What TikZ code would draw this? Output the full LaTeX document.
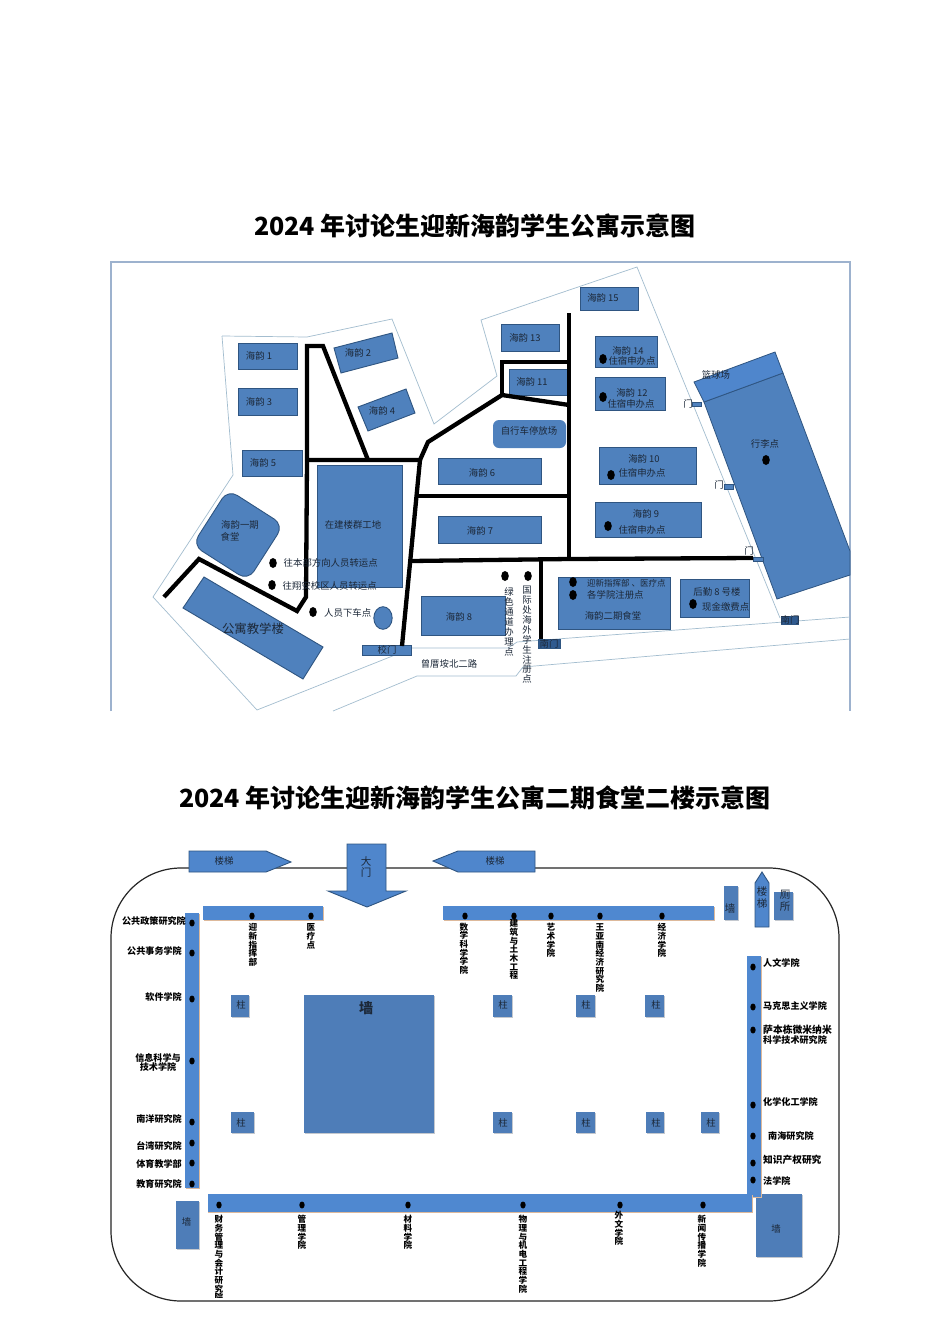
\documentclass[tikz,border=0pt]{standalone}
\usepackage{fontspec}
\setmainfont{Noto Sans CJK SC}
\definecolor{bldg}{HTML}{4F81BD}
\definecolor{bldgdk}{HTML}{2F5581}
\definecolor{barblue}{HTML}{4F88D0}
\definecolor{arrowblue}{HTML}{4F86CC}
\definecolor{wallblue}{HTML}{4E7DB8}
\definecolor{thinline}{HTML}{A3BDCF}
\definecolor{framec}{HTML}{9DB2CE}
\definecolor{txt}{HTML}{1C2838}
\definecolor{tan}{HTML}{DDB99B}
\definecolor{shadowc}{HTML}{C4C8CE}
\definecolor{gatedk}{HTML}{2F5A8F}
\makeatletter
\newcommand\vstk[2]{\vbox{\offinterlineskip\@tfor\vch:=#2\do{\hbox to 1em{\hss\vrule height .86\dimexpr#1pt\relax depth .14\dimexpr#1pt\relax width 0pt\vch\hss}}}}
\makeatother
\tikzset{
  x=1pt,y=-1pt,
  bld/.style={fill=bldg,draw=bldgdk,line width=0.9pt},
  road/.style={draw=black,line width=4.3pt,line join=miter},
  thin line/.style={draw=thinline,line width=0.7pt},
  lab/.style={font=\fontsize{9.4}{10.5}\selectfont,inner sep=0pt,text=txt,align=center},
  labl/.style={lab,anchor=west},
  vlab/.style={lab,anchor=north},
  blab/.style={font=\bfseries\fontsize{9.1}{9}\selectfont,inner sep=0pt,text=black,align=center},
  vblab/.style={inner sep=0pt,text=black,anchor=north,font=\bfseries\fontsize{8.6}{9}\selectfont},
  titletext/.style={font=\bfseries\fontsize{25}{27}\selectfont,inner sep=0pt,text=black},
  arrowshape/.style={fill=arrowblue,draw=bldgdk,line width=0.9pt},
  barbox/.style={fill=barblue},
  barshadow/.style={fill=tan},
  wallbox/.style={fill=wallblue},
  wallshadow/.style={fill=shadowc},
  door/.style={fill=bldg,draw=bldgdk,line width=0.8pt},
  darkdoor/.style={fill=gatedk,draw=bldgdk,line width=0.8pt},
}
\newcommand\blk[2]{\fill[black] (#1,#2) ellipse [x radius=3.8,y radius=5];}
\newcommand\sdot[2]{\fill[black] (#1,#2) ellipse [x radius=2.7,y radius=3.5];}
\newcommand\wallrect[4]{\fill[wallshadow] (#1+1,#2+1.2) rectangle (#3+1,#4+1.2);\fill[wallbox] (#1,#2) rectangle (#3,#4);}
\begin{document}
\begin{tikzpicture}
\useasboundingbox (0,0) rectangle (950,1344);
\fill[white] (0,0) rectangle (950,1344);
% titles
\node[titletext] (t1) at (475,226) {2024 年讨论生迎新海韵学生公寓示意图};
\node[titletext] (t2) at (475,798) {2024 年讨论生迎新海韵学生公寓二期食堂二楼示意图};
% frame of the upper map
\draw[draw=framec,line width=1.3pt] (111,711) -- (111,262) -- (850,262) -- (850,711);
% site outlines
\draw[thin line] (222,336) -- (307,337) -- (392,319) -- (434,424) -- (497,376) -- (481,320) -- (637,267) -- (780,618);
\draw[thin line] (222,336) -- (233,475) -- (153,597) -- (257,710) -- (395,655);
\draw[thin line] (410,648) -- (508,648) -- (517,642) -- (850,617);
\draw[thin line] (333,711) -- (417,676) -- (516,676) -- (523,667) -- (850,639);
% buildings
\draw[bld] (238,343) rectangle (297,369);
\draw[bld] (238,388) rectangle (297,415);
\draw[bld] (242,450) rectangle (302,476);
\draw[bld] (334,348) -- (392,333) -- (398,358) -- (341,373) -- cycle;
\draw[bld] (358,407) -- (406,389) -- (415,413) -- (368,431) -- cycle;
\draw[bld] (438,458) rectangle (541,484);
\draw[bld] (438,516) rectangle (541,543);
\draw[bld] (421,596) rectangle (505,635);
\draw[bld] (317,465) rectangle (402,587);
\draw[bld] (580,287) rectangle (638,310);
\draw[bld] (501,324) rectangle (559,351);
\draw[bld] (509,369) rectangle (567,395);
\draw[bld] (595,336) rectangle (657,367);
\draw[bld] (595,377) rectangle (665,410);
\draw[bld] (599,447) rectangle (696,484);
\draw[bld] (595,502) rectangle (701,537);
\draw[bld] (558,577) rectangle (670,629);
\draw[bld] (680,579) rectangle (749,617);
\fill[bldg,rounded corners=6pt] (493,420) rectangle (566,448);
\draw[fill=bldg,draw=bldgdk,line width=0.8pt] (704,402) -- (783,373) -- (850,551) -- (850,575) -- (777,599) -- cycle;
\draw[fill=arrowblue,draw=bldgdk,line width=0.8pt] (694,382) -- (775,352) -- (783,373) -- (704,402) -- cycle;
\draw[bld,rounded corners=11pt] (228,489.5) -- (283.5,525) -- (248,580.5) -- (192.5,545) -- cycle;
\draw[bld] (204,577) -- (323,647) -- (303,679) -- (183,608) -- cycle;
\draw[bld] (383,618) ellipse [x radius=9.2,y radius=11.3];
% gates
\draw[door] (362,645) rectangle (411,655);
\draw[darkdoor] (538,639) rectangle (560,648);
\draw[darkdoor] (781,616) rectangle (798,624);
\draw[door] (692,402) rectangle (701,406);
\draw[door] (724,484) rectangle (733,489);
\draw[door] (753,557) rectangle (763,561);
% roads
\draw[road] (307,460) -- (307,346) -- (323,346) -- (368,460);
\draw[road] (307,460) -- (420,460) -- (428,442) -- (502,395) -- (569,405);
\draw[road] (569,313) -- (569,558);
\draw[road] (502,395) -- (502,362) -- (569,362);
\draw[road] (420,460) -- (402,646);
\draw[road] (418,496) -- (569,496);
\draw[road] (411,561) -- (569,559) -- (753,558);
\draw[road] (541,560) -- (541,639);
\draw[road] (307,460) -- (306,597) -- (297,611) -- (199,559) -- (164,597);
% upper map labels
\node[lab] (n1) at (259,356) {海韵 1};
\node[lab] (n3) at (259,402) {海韵 3};
\node[lab] (n5) at (263,463) {海韵 5};
\node[lab] (n2) at (358,353) {海韵 2};
\node[lab] (n4) at (382,411) {海韵 4};
\node[lab] (n6) at (482,473) {海韵 6};
\node[lab] (n7) at (480,531) {海韵 7};
\node[lab] (n8) at (459,617) {海韵 8};
\node[lab] (n15) at (603,298) {海韵 15};
\node[lab] (n13) at (525,338) {海韵 13};
\node[lab] (n11) at (532,382) {海韵 11};
\node[lab] (n14) at (628,351) {海韵 14};
\node[lab] (n14a) at (632,360.5) {住宿申办点};
\node[lab] (n12) at (632,393) {海韵 12};
\node[lab] (n12a) at (631,404) {住宿申办点};
\node[lab] (n10) at (644,459) {海韵 10};
\node[lab] (n10a) at (642,473) {住宿申办点};
\node[lab] (n9) at (646,514) {海韵 9};
\node[lab] (n9a) at (642,530) {住宿申办点};
\node[lab] (bike) at (529,431) {自行车停放场};
\node[lab] (court) at (716,375) {篮球场};
\node[lab] (lug) at (765,444) {行李点};
\node[lab] (site) at (353,525) {在建楼群工地};
\node[lab] (c1a) at (240,525) {海韵一期};
\node[lab] (c1b) at (230,537) {食堂};
\node[labl] (tr1) at (283.5,563) {往本部方向人员转运点};
\node[labl] (tr2) at (282.5,586) {往翔安校区人员转运点};
\node[labl] (drop) at (324,613) {人员下车点};
\node[lab,font=\fontsize{12.4}{14}\selectfont] (teach) at (253,629) {公寓教学楼};
\node[lab] (gate) at (387,649.5) {校门};
\node[lab] (rd) at (449,664) {曾厝垵北二路};
\node[labl,font=\fontsize{8.5}{10}\selectfont] (h1) at (587,583) {迎新指挥部 、医疗点};
\node[labl] (h2) at (587,595) {各学院注册点};
\node[lab] (h3) at (613,616) {海韵二期食堂};
\node[lab] (b8) at (717,592) {后勤 8 号楼};
\node[labl] (cash) at (702,607) {现金缴费点};
\node[vlab] (green) at (509,587) {\vstk{9.9}{绿色通道办理点}};
\node[vlab] (intl) at (527,585) {\vstk{9.9}{国际处海外学生注册点}};
\node[lab] (sg) at (549,643.5) {南门};
\node[lab] (eg) at (790,619.5) {南门};
\node[lab] (d1) at (688,404) {门};
\node[lab] (d2) at (719,485) {门};
\node[lab] (d3) at (749,551) {门};
\blk{603}{359}\blk{603}{397}\blk{611}{475}\blk{608}{526}\blk{766}{460}
\blk{273}{563}\blk{272}{585}\blk{313}{612}\blk{505}{576}\blk{528}{576}
\blk{573}{582}\blk{573}{595}\blk{693}{604}
% lower plan: outer wall
\draw[draw=black!85,line width=1.2pt,rounded corners=70pt] (111,868) rectangle (839,1301);
% stair arrows
\draw[arrowshape] (189,851) -- (266,851) -- (291,862) -- (266,872) -- (189,872) -- cycle;
\draw[arrowshape] (535,851) -- (458,851) -- (433,861) -- (458,872) -- (535,872) -- cycle;
\draw[arrowshape] (347,844) -- (386,844) -- (386,891) -- (406,891) -- (367,907) -- (328,891) -- (347,891) -- cycle;
\draw[arrowshape] (762,872) -- (769,883) -- (769,927) -- (755,927) -- (755,883) -- cycle;
% walls and pillars
\wallrect{774}{892}{793}{920}
\wallrect{724}{886}{738}{920}
\wallrect{176}{1201}{199}{1249}
\wallrect{756}{1194}{802}{1257}
\wallrect{304}{995}{434}{1133}
\foreach \a/\b in {231/249,493/512,576/595,645/664}{\wallrect{\a}{995}{\b}{1017}}
\foreach \a/\b in {231/254,493/512,576/595,646/664,701/719}{\wallrect{\a}{1112}{\b}{1133}}
% counters
\fill[barshadow] (203.5,907) rectangle (323.5,921);
\fill[barbox] (203,906) rectangle (323,920);
\fill[barshadow] (443.5,907) rectangle (714.5,921);
\fill[barbox] (443,906) rectangle (714,920);
\fill[barshadow] (185.5,914) rectangle (199.5,1189);
\fill[barbox] (185,913) rectangle (199,1188);
\fill[barshadow] (747.5,957) rectangle (761.5,1198);
\fill[barbox] (747,956) rectangle (761,1197);
\fill[barshadow] (208,1195) rectangle (752.5,1213);
\fill[barbox] (208,1194) rectangle (752,1212);
% lower plan shape labels
\node[lab] (s1) at (224,861) {楼梯};
\node[lab] (s2) at (495,861) {楼梯};
\node[lab,font=\fontsize{10.5}{11.5}\selectfont] (dm) at (366,867) {大\\门};
\node[lab,font=\fontsize{10.5}{11.5}\selectfont] (s3) at (762,897.5) {楼\\梯};
\node[lab,font=\fontsize{10.5}{12}\selectfont] (wc) at (785,901) {厕\\所};
\node[lab,font=\fontsize{10.5}{12}\selectfont] (w1) at (730,908) {墙};
\node[lab,font=\bfseries\fontsize{14}{15}\selectfont] (w2) at (366,1008) {墙};
\node[lab] (w3) at (186.5,1222) {墙};
\node[lab] (w4) at (776,1229) {墙};
\foreach \px in {241,503,586,656}{\node[lab] at (\px,1005) {柱};}
\foreach \px in {241,503,586,656,711}{\node[lab] at (\px,1122.5) {柱};}
% lower plan dots
\foreach \px in {252,311,465,514,551,600,662}{\sdot{\px}{916}}
\foreach \py in {923,953,999,1061,1122,1143,1163,1184}{\sdot{192}{\py}}
\foreach \py in {967,1007,1030,1105,1136,1163,1180}{\sdot{753}{\py}}
\foreach \px in {219,302,408,523,620,703}{\sdot{\px}{1205}}
% vertical labels
\node[vblab] (a1) at (253,923) {\vstk{8.7}{迎新指挥部}};
\node[vblab] (a2) at (311,923) {\vstk{8.7}{医疗点}};
\node[vblab] (a3) at (464,922.5) {\vstk{8.7}{数学科学学院}};
\node[vblab] (a4) at (514,919) {\vstk{8.7}{建筑与土木工程}};
\node[vblab] (a5) at (551,923) {\vstk{8.7}{艺术学院}};
\node[vblab] (a6) at (600,923) {\vstk{8.7}{王亚南经济研究院}};
\node[vblab] (a7) at (662,923) {\vstk{8.7}{经济学院}};
\begin{scope}
\clip (200,1210) rectangle (240,1297.5);
\node[vblab] (b1) at (219,1215) {\vstk{8.7}{财务管理与会计研究院}};
\end{scope}
\node[vblab] (b2) at (302,1215) {\vstk{8.7}{管理学院}};
\node[vblab] (b3) at (408,1215) {\vstk{8.7}{材料学院}};
\node[vblab] (b4) at (523,1215) {\vstk{8.7}{物理与机电工程学院}};
\node[vblab] (b5) at (619,1211) {\vstk{8.7}{外文学院}};
\node[vblab] (b6) at (702,1215) {\vstk{8.7}{新闻传播学院}};
% left labels
\node[blab,anchor=east] (l1) at (186,921) {公共政策研究院};
\node[blab,anchor=east] (l2) at (182,951) {公共事务学院};
\node[blab,anchor=east] (l3) at (182,997) {软件学院};
\node[blab] (l4) at (158,1062.5) {信息科学与\\技术学院};
\node[blab,anchor=east] (l5) at (182,1119) {南洋研究院};
\node[blab,anchor=east] (l6) at (182,1146) {台湾研究院};
\node[blab,anchor=east] (l7) at (182,1164) {体育教学部};
\node[blab,anchor=east] (l8) at (182,1184) {教育研究院};
% right labels
\node[blab,anchor=west] (r1) at (763,963) {人文学院};
\node[blab,anchor=west] (r2) at (763,1006) {马克思主义学院};
\node[blab,anchor=west,font=\bfseries\fontsize{9.8}{9}\selectfont] (r3a) at (763,1030) {萨本栋微米纳米};
\node[blab,anchor=west] (r3b) at (763,1040) {科学技术研究院};
\node[blab,anchor=west] (r4) at (763,1102) {化学化工学院};
\node[blab,anchor=west] (r5) at (768,1136) {南海研究院};
\node[blab,anchor=west,font=\bfseries\fontsize{9.7}{9}\selectfont] (r6) at (763,1160) {知识产权研究};
\node[blab,anchor=west] (r7) at (763,1181) {法学院};
\end{tikzpicture}
\end{document}
